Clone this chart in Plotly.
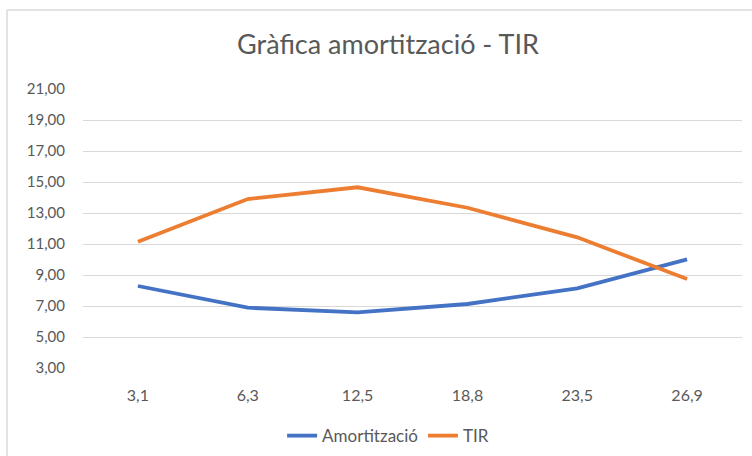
import plotly.graph_objects as go

# categories and series
categories = ['3,1', '6,3', '12,5', '18,8', '23,5', '26,9']
amortitzacio = [8.29, 6.89, 6.59, 7.13, 8.14, 10.01]
tir = [11.15, 13.90, 14.66, 13.34, 11.43, 8.74]
y_ticks = [3, 5, 7, 9, 11, 13, 15, 17, 19, 21]
y_tick_labels = ['3,00', '5,00', '7,00', '9,00', '11,00', '13,00', '15,00', '17,00', '19,00', '21,00']

FONT = 'Lato, Carlito, Calibri, sans-serif'
GREY = '#595959'

fig = go.Figure()
fig.add_trace(go.Scatter(x=categories, y=amortitzacio, mode='lines', name='Amortització',
                         line=dict(color='#4472C4', width=3.8)))
fig.add_trace(go.Scatter(x=categories, y=tir, mode='lines', name='TIR',
                         line=dict(color='#ED7D31', width=3.8)))

fig.update_layout(
    width=752, height=456,
    margin=dict(l=83, r=10, t=89, b=88, autoexpand=False),
    paper_bgcolor='white', plot_bgcolor='white',
    font=dict(family=FONT, color=GREY, size=15),
    title=dict(text='Gràfica amortització - TIR', x=388 / 752, xanchor='center',
               y=1 - 45 / 456, yanchor='middle',
               font=dict(family=FONT, size=27, color=GREY)),
    showlegend=True,
    legend=dict(orientation='h', x=0.463, xanchor='center', y=-0.244, yanchor='middle',
                font=dict(family=FONT, size=17, color=GREY), itemwidth=30),
)
fig.update_xaxes(type='category', range=[-0.5, 5.5], showgrid=False, showline=False,
                 ticks='outside', ticklen=13, tickcolor='rgba(0,0,0,0)',
                 tickfont=dict(size=16, color=GREY), fixedrange=True)
fig.update_yaxes(range=[3, 21], tickvals=y_ticks, ticktext=y_tick_labels,
                 showgrid=True, gridcolor='#D9D9D9', gridwidth=1, zeroline=False,
                 showline=False, ticks='outside', ticklen=14, tickcolor='rgba(0,0,0,0)',
                 tickfont=dict(size=15, color=GREY), fixedrange=True)

# chart frame (left and top edges visible in the reference)
fig.add_shape(type='line', xref='paper', yref='paper',
              x0=(7 - 83) / 659, x1=(752 - 83) / 659, y0=1 + 79 / 279, y1=1 + 79 / 279,
              line=dict(color='#D9D9D9', width=1.5))
fig.add_shape(type='line', xref='paper', yref='paper',
              x0=(7 - 83) / 659, x1=(7 - 83) / 659, y0=1 + 79 / 279, y1=-88 / 279,
              line=dict(color='#D9D9D9', width=1.5))

# drop the browser's default body margin so the figure sits at the page corner
fig.write_html('out.html', config={'displayModeBar': False},
               post_script="document.body.style.margin='0';")
